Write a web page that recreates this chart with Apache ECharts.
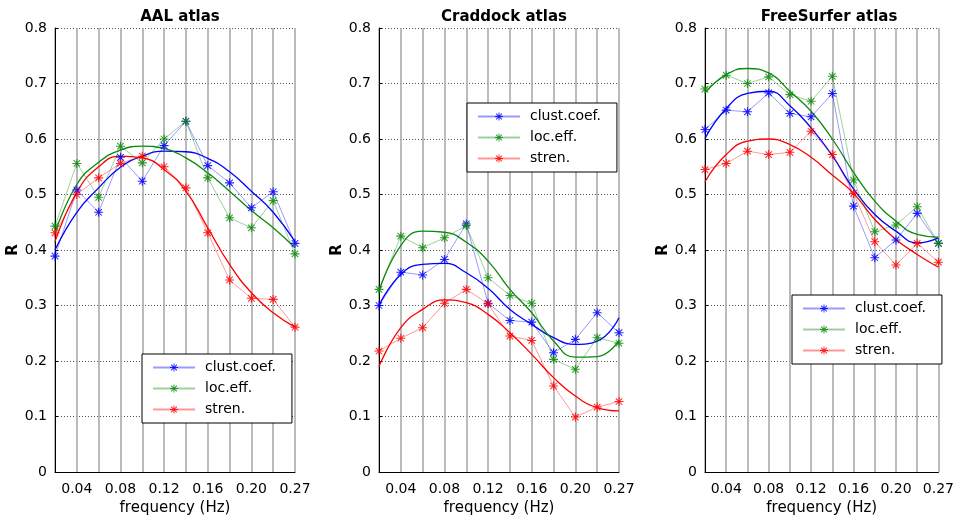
<!DOCTYPE html>
<html>
<head>
<meta charset="utf-8">
<script src="https://cdn.jsdelivr.net/npm/echarts@6/dist/echarts.min.js"></script>
<style>
  html, body { margin: 0; padding: 0; background: #fff; }
  #chart { width: 957px; height: 521px; }
</style>
</head>
<body>
<div id="chart"></div>
<script>
// Frequency ticks (only every second tick carries a label)
const freqLabels = ['', '0.04', '', '0.08', '', '0.12', '', '0.16', '', '0.20', '', '0.27'];
const seriesNames = ['clust.coef.', 'loc.eff.', 'stren.'];
const panelTitles = ['AAL atlas', 'Craddock atlas', 'FreeSurfer atlas'];

// AAL atlas: measured correlations and their polynomial fits
const aalClust = [0.389, 0.508, 0.468, 0.567, 0.524, 0.588, 0.632, 0.552, 0.521, 0.476, 0.505, 0.412];
const aalLoc   = [0.443, 0.556, 0.495, 0.587, 0.557, 0.600, 0.632, 0.530, 0.458, 0.440, 0.489, 0.393];
const aalStren = [0.431, 0.500, 0.530, 0.556, 0.569, 0.550, 0.512, 0.431, 0.346, 0.313, 0.311, 0.261];
const aalClustFit = [0.400, 0.468, 0.512, 0.549, 0.569, 0.578, 0.577, 0.565, 0.541, 0.506, 0.468, 0.415];
const aalLocFit   = [0.430, 0.518, 0.558, 0.580, 0.587, 0.583, 0.566, 0.539, 0.506, 0.471, 0.440, 0.404];
const aalStrenFit = [0.415, 0.504, 0.550, 0.569, 0.566, 0.545, 0.506, 0.440, 0.374, 0.323, 0.287, 0.261];

// Craddock atlas
const crdClust = [0.300, 0.360, 0.355, 0.383, 0.447, 0.304, 0.273, 0.270, 0.215, 0.239, 0.287, 0.251];
const crdLoc   = [0.329, 0.425, 0.404, 0.422, 0.444, 0.350, 0.318, 0.304, 0.203, 0.185, 0.242, 0.232];
const crdStren = [0.218, 0.241, 0.260, 0.304, 0.329, 0.303, 0.245, 0.237, 0.155, 0.099, 0.117, 0.127];
const crdClustFit = [0.300, 0.356, 0.374, 0.376, 0.359, 0.331, 0.293, 0.266, 0.242, 0.230, 0.236, 0.278];
const crdLocFit   = [0.325, 0.408, 0.434, 0.432, 0.414, 0.380, 0.329, 0.287, 0.236, 0.207, 0.208, 0.237];
const crdStrenFit = [0.190, 0.260, 0.293, 0.310, 0.305, 0.284, 0.251, 0.212, 0.170, 0.137, 0.116, 0.110];

// FreeSurfer atlas
const fsClust = [0.617, 0.652, 0.649, 0.683, 0.646, 0.640, 0.682, 0.479, 0.386, 0.418, 0.466, 0.412];
const fsLoc   = [0.690, 0.715, 0.700, 0.712, 0.680, 0.668, 0.713, 0.526, 0.433, 0.445, 0.478, 0.412];
const fsStren = [0.545, 0.556, 0.578, 0.572, 0.576, 0.614, 0.572, 0.502, 0.415, 0.373, 0.412, 0.378];
const fsClustFit = [0.601, 0.655, 0.682, 0.686, 0.660, 0.620, 0.570, 0.510, 0.464, 0.434, 0.413, 0.422];
const fsLocFit   = [0.683, 0.716, 0.727, 0.719, 0.686, 0.650, 0.600, 0.540, 0.488, 0.452, 0.428, 0.423];
const fsStrenFit = [0.523, 0.572, 0.596, 0.600, 0.590, 0.567, 0.535, 0.502, 0.455, 0.419, 0.392, 0.369];

const panels = [
  { raw: [aalClust, aalLoc, aalStren], fit: [aalClustFit, aalLocFit, aalStrenFit] },
  { raw: [crdClust, crdLoc, crdStren], fit: [crdClustFit, crdLocFit, crdStrenFit] },
  { raw: [fsClust, fsLoc, fsStren],    fit: [fsClustFit, fsLocFit, fsStrenFit] }
];

const colors = ['#0000ff', '#0b8a0b', '#ff0000'];
const FONT = '"DejaVu Sans", sans-serif';

// asterisk marker built from four thin bars
const asterisk = 'path://M4.4 0L5.6 0L5.6 10L4.4 10Z M0 4.4L10 4.4L10 5.6L0 5.6Z ' +
  'M1 1.8L1.8 1L9 8.2L8.2 9Z M8.2 1L9 1.8L1.8 9L1 8.2Z';

const gridBoxes = [
  { left: 55, width: 240 },
  { left: 379, width: 240 },
  { left: 705, width: 238 }
];
const legendBoxes = [
  { left: 142, top: 354 },
  { left: 467, top: 103 },
  { left: 792, top: 295 }
];

const grid = [], xAxis = [], yAxis = [], series = [], title = [], legend = [];

gridBoxes.forEach((g, i) => {
  grid.push({ left: g.left, width: g.width, top: 28, height: 444, containLabel: false });
  title.push({
    text: panelTitles[i],
    left: g.left + g.width / 2,
    top: 5,
    textAlign: 'center',
    textStyle: { fontFamily: FONT, fontWeight: 'bold', fontSize: 15, color: '#000' }
  });
  xAxis.push({
    type: 'category',
    gridIndex: i,
    data: freqLabels,
    boundaryGap: false,
    name: 'frequency (Hz)',
    nameLocation: 'middle',
    nameGap: 28,
    nameTextStyle: { fontFamily: FONT, fontSize: 15, color: '#000' },
    axisLine: { show: true, lineStyle: { color: '#000', width: 1 } },
    axisTick: { show: false },
    axisLabel: { interval: 0, margin: 10, fontFamily: FONT, fontSize: 14, color: '#000' },
    splitLine: { show: true, interval: 0, lineStyle: { color: '#aaaaaa', width: 1.6 } }
  });
  yAxis.push({
    type: 'value',
    gridIndex: i,
    min: 0,
    max: 0.8,
    interval: 0.1,
    name: 'R',
    nameLocation: 'middle',
    nameGap: 30,
    nameTextStyle: { fontFamily: FONT, fontWeight: 'bold', fontSize: 15, color: '#000' },
    axisLine: { show: true, lineStyle: { color: '#000', width: 1 } },
    axisTick: { show: true, inside: true, length: 3, lineStyle: { color: '#000' } },
    axisLabel: { margin: 8, fontFamily: FONT, fontSize: 14, color: '#000' },
    splitLine: { show: true, lineStyle: { color: '#555', width: 1, type: [1, 2] } }
  });

  const p = panels[i];
  for (let k = 0; k < 3; k++) {
    series.push({
      name: seriesNames[k] + ' fit',
      type: 'line',
      xAxisIndex: i,
      yAxisIndex: i,
      data: p.fit[k],
      smooth: 0.5,
      showSymbol: false,
      silent: true,
      lineStyle: { color: colors[k], width: 1.3 },
      itemStyle: { color: colors[k] },
      z: 2
    });
    series.push({
      name: seriesNames[k],
      type: 'line',
      xAxisIndex: i,
      yAxisIndex: i,
      data: p.raw[k],
      symbol: asterisk,
      symbolSize: 9,
      lineStyle: { color: colors[k], width: 1, opacity: 0.4 },
      itemStyle: { color: colors[k], opacity: 0.85 },
      z: 3
    });
  }

  legend.push({
    data: seriesNames,
    orient: 'vertical',
    left: legendBoxes[i].left,
    top: legendBoxes[i].top,
    backgroundColor: '#fff',
    borderColor: '#000',
    borderWidth: 1,
    borderRadius: 0,
    padding: [6, 16, 6, 10],
    itemWidth: 42,
    itemHeight: 10,
    itemGap: 6,
    selectedMode: false,
    textStyle: { fontFamily: FONT, fontSize: 14, color: '#000', lineHeight: 15, padding: [0, 0, 0, 5] }
  });
});

const chart = echarts.init(document.getElementById('chart'), null, { renderer: 'canvas' });
chart.setOption({
  animation: false,
  backgroundColor: '#fff',
  color: colors,
  title, legend, grid, xAxis, yAxis, series
});
</script>
</body>
</html>
